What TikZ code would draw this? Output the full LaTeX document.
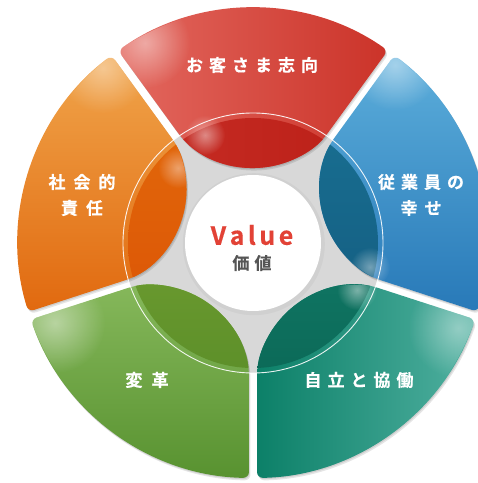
\documentclass[tikz,border=0pt]{standalone}
\usepackage{fontspec}
\newfontfamily\jp{Noto Sans CJK JP}[BoldFont={Noto Sans CJK JP Bold}, BoldFeatures={FakeBold=0.4}]
\usetikzlibrary{fadings}
\definecolor{valred}{HTML}{E24236}
\definecolor{valgray}{HTML}{555555}
\definecolor{diskgray}{HTML}{D8D8D8}
\tikzfading[name=glow, inner color=transparent!0, outer color=transparent!100]
% letter-spaced text: \spcd{amount}{text}
\newcommand\spcd[2]{\def\spcdamt{#1}\spcdA#2\relax}
\def\spcdA#1{#1\spcdB}
\def\spcdB#1{\ifx#1\relax\else\kern\spcdamt #1\expandafter\spcdB\fi}
% segment path around axis angle #1
\newcommand\segp[1]{({#1-35.02}:235) arc[start angle={#1-35.02}, end angle={#1+35.02}, radius=235] -- ({#1+34.18}:128) arc[start angle={#1+133.5}, end angle={#1+226.5}, radius=99.1] -- cycle}
\tikzset{
  lbl/.style={text=white, font=\jp\bfseries\fontsize{17}{17}\selectfont, inner sep=0pt},
  segshadow/.style={fill=black, opacity=.10, rounded corners=6},
  seg/.style={rounded corners=6},
}
\begin{document}
\begin{tikzpicture}[x=1pt,y=1pt]
\useasboundingbox (0,0) rectangle (478,483);
\begin{scope}[shift={(253,240)}]
  % gray core
  \fill[diskgray] (0,0) circle (130);
  % shadows
  \foreach \a in {90,18,-54,-126,162}{
    \fill[segshadow, shift={(1.5,-2.5)}] \segp{\a};
    \fill[segshadow, shift={(0.7,-1.2)}] \segp{\a};
  }
  % segments
  \shade[seg, left color={rgb,255:red,227;green,104;blue,95}, right color={rgb,255:red,203;green,51;blue,41}] \segp{90};
  \shade[seg, top color={rgb,255:red,92;green,174;blue,219}, bottom color={rgb,255:red,40;green,121;blue,184}] \segp{18};
  \shade[seg, left color={rgb,255:red,12;green,128;blue,104}, right color={rgb,255:red,80;green,176;blue,160}] \segp{-54};
  \shade[seg, top color={rgb,255:red,134;green,184;blue,91}, bottom color={rgb,255:red,88;green,146;blue,48}] \segp{-126};
  \shade[seg, top color={rgb,255:red,240;green,165;blue,75}, bottom color={rgb,255:red,225;green,105;blue,15}] \segp{162};
  % highlights on segments
  \begin{scope}\clip \segp{90};  \fill[white, opacity=.45, path fading=glow] (-108,200) circle (45); \end{scope}
  \begin{scope}\clip \segp{18};  \fill[white, opacity=.45, path fading=glow] (142,178) circle (45); \end{scope}
  \begin{scope}\clip \segp{-54}; \fill[white, opacity=.40, path fading=glow] (205,-85) circle (50); \end{scope}
  \begin{scope}\clip \segp{-126};\fill[white, opacity=.45, path fading=glow] (-198,-80) circle (50); \end{scope}
  \begin{scope}\clip \segp{162}; \fill[white, opacity=.40, path fading=glow] (-150,175) circle (45); \end{scope}
  % darker inner lobes
  \begin{scope}\clip (0,0) circle (125);
    \shade[seg, left color={rgb,255:red,200;green,46;blue,38}, right color={rgb,255:red,186;green,30;blue,22}] \segp{90};
    \shade[seg, top color={rgb,255:red,26;green,116;blue,150}, bottom color={rgb,255:red,20;green,94;blue,130}] \segp{18};
    \shade[seg, top color={rgb,255:red,15;green,116;blue,98}, bottom color={rgb,255:red,8;green,94;blue,76}] \segp{-54};
    \shade[seg, top color={rgb,255:red,104;green,152;blue,46}, bottom color={rgb,255:red,80;green,133;blue,36}] \segp{-126};
    \shade[seg, top color={rgb,255:red,228;green,110;blue,12}, bottom color={rgb,255:red,220;green,86;blue,6}] \segp{162};
  \end{scope}
  % glints on lobes
  \begin{scope}\clip \segp{90};  \fill[white, opacity=.45, path fading=glow] (-48,108) circle (20); \end{scope}
  \begin{scope}\clip \segp{162}; \fill[white, opacity=.40, path fading=glow] (-75,75) circle (20); \end{scope}
  \begin{scope}\clip \segp{18};  \fill[white, opacity=.40, path fading=glow] (117,-24) circle (20); \end{scope}
  \begin{scope}\clip \segp{-54}; \fill[white, opacity=.45, path fading=glow] (104,-47) circle (20); \end{scope}
  % thin ring
  \draw[white, line width=0.9pt, opacity=.9] (0,0) circle (130);
  % centre
  \fill[black, opacity=.035] (0.8,-1.2) circle (71);
  \fill[white] (0,0) circle (68);
\end{scope}
% labels
\node[lbl] (t1) at (252,418) {\spcd{6pt}{お客さま志向}};
\node[lbl] (t2a) at (82,301) {\spcd{8pt}{社会的}};
\node[lbl] (t2b) at (82,275) {\spcd{8pt}{責任}};
\node[lbl] (t3a) at (421,301) {\spcd{6pt}{従業員の}};
\node[lbl] (t3b) at (421,275) {\spcd{7pt}{幸せ}};
\node[lbl] (t4) at (147,103) {\spcd{9pt}{変革}};
\node[lbl] (t5) at (359,103) {\spcd{6pt}{自立と協働}};
\node[inner sep=0pt, text=valred, font=\jp\bfseries\fontsize{25}{25}\selectfont] (v) at (252,248) {\spcd{3.5pt}{Value}};
\node[inner sep=0pt, text=valgray, font=\jp\bfseries\fontsize{17}{17}\selectfont] (w) at (252,220) {\spcd{5pt}{価値}};
\end{tikzpicture}
\end{document}
